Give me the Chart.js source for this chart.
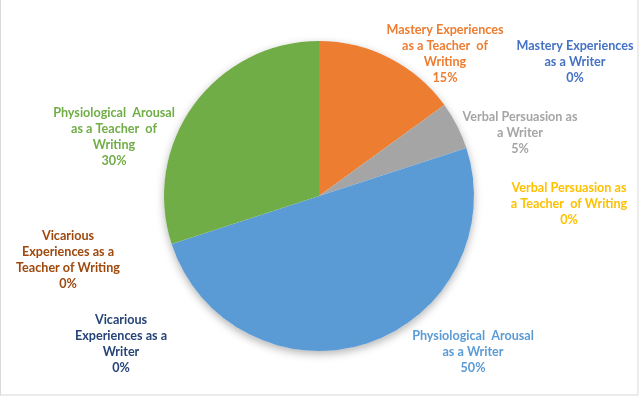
<!DOCTYPE html>
<html>
<head>
<meta charset="utf-8">
<script src="https://cdn.jsdelivr.net/npm/chart.js@4.4.1/dist/chart.umd.min.js"></script>
<style>
  html, body { margin: 0; padding: 0; background: #fff; }
  #wrap { position: relative; width: 639px; height: 402px; }
</style>
</head>
<body>
<div id="wrap"><canvas id="chart" width="639" height="402"></canvas></div>
<script>
// Data, clockwise from 12 o'clock
const categories = [
  "Mastery Experiences as a Teacher of Writing",
  "Mastery Experiences as a Writer",
  "Verbal Persuasion as a Writer",
  "Verbal Persuasion as a Teacher of Writing",
  "Physiological Arousal as a Writer",
  "Vicarious Experiences as a Writer",
  "Vicarious Experiences as a Teacher of Writing",
  "Physiological Arousal as a Teacher of Writing",
];
const values = [15, 0, 5, 0, 50, 0, 0, 30];
const labelLines = [
  ["Mastery Experiences", "as a Teacher  of", "Writing"],
  ["Mastery Experiences", "as a Writer"],
  ["Verbal Persuasion as", "a Writer"],
  ["Verbal Persuasion as", "a Teacher  of Writing"],
  ["Physiological  Arousal", "as a Writer"],
  ["Vicarious", "Experiences as a", "Writer"],
  ["Vicarious", "Experiences as a", "Teacher of Writing"],
  ["Physiological  Arousal", "as a Teacher  of", "Writing"],
];
const colors = ["#ED7D31", "#4472C4", "#A5A5A5", "#FFC000", "#5B9BD5", "#264478", "#9E480E", "#70AD47"];

// label block centres, offset from pie centre (manual placement like the original)
const labelOffsets = [
  [126, -142], [256, -134], [201, -63], [250, 8],
  [154, 156], [-198, 148], [-251, 64], [-205, -59],
];

const frame = {
  id: "frame",
  beforeDraw(chart) {
    const ctx = chart.ctx;
    ctx.save();
    ctx.strokeStyle = "#d9d9d9";
    ctx.lineWidth = 1;
    ctx.strokeRect(0.5, -2, 637.5, 397);
    ctx.restore();
  },
};

// soft shadow under the pie
const pieShadow = {
  id: "pieShadow",
  beforeDatasetsDraw(chart) {
    const arc = chart.getDatasetMeta(0).data[0];
    if (!arc) return;
    const ctx = chart.ctx;
    ctx.save();
    ctx.shadowColor = "rgba(0,0,0,0.3)";
    ctx.shadowBlur = 8;
    ctx.shadowOffsetY = 3;
    ctx.fillStyle = "#fff";
    ctx.beginPath();
    ctx.arc(arc.x, arc.y, arc.outerRadius, 0, Math.PI * 2);
    ctx.fill();
    ctx.restore();
  },
};

const sliceLabels = {
  id: "sliceLabels",
  afterDatasetsDraw(chart) {
    const meta = chart.getDatasetMeta(0);
    const ctx = chart.ctx;
    const total = values.reduce((a, b) => a + b, 0);
    ctx.save();
    ctx.font = "bold 12.6px Lato, Carlito, sans-serif";
    ctx.textAlign = "center";
    ctx.textBaseline = "middle";
    meta.data.forEach((arc, i) => {
      const lines = labelLines[i].concat([Math.round(values[i] / total * 100) + "%"]);
      const lh = 15.8;
      const cx = arc.x + labelOffsets[i][0];
      const cy = arc.y + labelOffsets[i][1] - (lines.length - 1) * lh / 2;
      ctx.fillStyle = colors[i];
      lines.forEach((t, j) => ctx.fillText(t, cx, cy + j * lh));
    });
    ctx.restore();
  },
};

new Chart(document.getElementById("chart"), {
  type: "pie",
  data: {
    labels: categories,
    datasets: [{
      data: values,
      backgroundColor: colors,
      borderWidth: 0,
    }],
  },
  options: {
    responsive: false,
    animation: false,
    layout: { padding: { left: 164, right: 165, top: 41, bottom: 51 } },
    plugins: {
      legend: { display: false },
      tooltip: { enabled: false },
    },
  },
  plugins: [frame, pieShadow, sliceLabels],
});
</script>
</body>
</html>
